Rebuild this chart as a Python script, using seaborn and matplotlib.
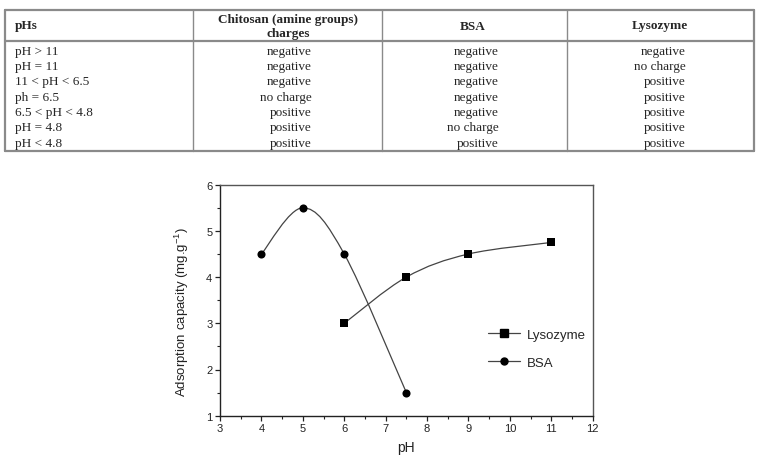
import matplotlib
matplotlib.use("Agg")
import matplotlib.pyplot as plt
from matplotlib.path import Path
from matplotlib.patches import PathPatch
from matplotlib.lines import Line2D
from matplotlib.ticker import MultipleLocator
import numpy as np
import pandas as pd
import seaborn as sns

# table content
col_headers = ["pHs", "Chitosan (amine groups)\ncharges", "BSA", "Lysozyme"]
ph_ranges = ["pH > 11", "pH = 11", "11 < pH < 6.5", "ph = 6.5",
             "6.5 < pH < 4.8", "pH = 4.8", "pH < 4.8"]
chitosan_charge = ["negative", "negative", "negative", "no charge",
                   "positive", "positive", "positive"]
bsa_charge = ["negative", "negative", "negative", "negative",
              "negative", "no charge", "positive"]
lyso_charge = ["negative", "no charge", "positive", "positive",
               "positive", "positive", "positive"]

# adsorption capacity vs pH
bsa_ph = [4, 5, 6, 7.5]
bsa_cap = [4.5, 5.5, 4.5, 1.5]
lyso_ph = [6, 7.5, 9, 11]
lyso_cap = [3.0, 4.0, 4.5, 4.75]

sns.set_style("ticks")
plt.rcParams['font.family'] = ['Liberation Sans', 'DejaVu Sans']
plt.rcParams['mathtext.default'] = 'regular'

W, H = 764, 464
fig = plt.figure(figsize=(W / 100, H / 100), dpi=100)


def fx(x):
    return x / W


def fy(y):
    return 1 - y / H


# ---- table ----
grey = "#8a8a8a"
tbl_left, tbl_right = 5, 754
tbl_top, tbl_head, tbl_bot = 10.7, 42, 152
col_lines = [193, 382, 567]
for y in [tbl_top, tbl_head, tbl_bot]:
    fig.add_artist(Line2D([fx(tbl_left), fx(tbl_right)], [fy(y), fy(y)],
                          color=grey, lw=1.6, transform=fig.transFigure))
for x in [tbl_left, tbl_right]:
    fig.add_artist(Line2D([fx(x), fx(x)], [fy(tbl_top), fy(tbl_bot)],
                          color=grey, lw=1.6, transform=fig.transFigure))
for x in col_lines:
    fig.add_artist(Line2D([fx(x), fx(x)], [fy(tbl_top), fy(tbl_bot)],
                          color=grey, lw=1.0, transform=fig.transFigure))

serif = ['Liberation Serif', 'DejaVu Serif']
fs_tbl = 9.5
fig.text(fx(15), fy(26.5), col_headers[0], family=serif, weight='bold',
         size=fs_tbl, ha='left', va='center')
fig.text(fx(288), fy(27), col_headers[1], family=serif, weight='bold',
         size=fs_tbl, ha='center', va='center', linespacing=1.15)
fig.text(fx(473), fy(26.5), col_headers[2], family=serif, weight='bold',
         size=fs_tbl, ha='center', va='center')
fig.text(fx(660), fy(26.5), col_headers[3], family=serif, weight='bold',
         size=fs_tbl, ha='center', va='center')

for i in range(len(ph_ranges)):
    y = fy(51.5 + 15.4 * i)
    fig.text(fx(15), y, ph_ranges[i], family=serif, size=fs_tbl, ha='left', va='center')
    fig.text(fx(312), y, chitosan_charge[i], family=serif, size=fs_tbl, ha='right', va='center')
    fig.text(fx(498.5), y, bsa_charge[i], family=serif, size=fs_tbl, ha='right', va='center')
    fig.text(fx(686), y, lyso_charge[i], family=serif, size=fs_tbl, ha='right', va='center')

# ---- chart ----
ax = fig.add_axes([fx(220), 47.3 / H, (592.7 - 220) / W, (416.7 - 185.7) / H])


def smooth_path(x, y):
    pts = np.column_stack([x, y]).astype(float)
    n = len(pts)
    verts = [pts[0]]
    codes = [Path.MOVETO]
    for i in range(n - 1):
        p0 = pts[max(i - 1, 0)]
        p1 = pts[i]
        p2 = pts[i + 1]
        p3 = pts[min(i + 2, n - 1)]
        verts += [p1 + (p2 - p0) / 6, p2 - (p3 - p1) / 6, p2]
        codes += [Path.CURVE4] * 3
    return Path(verts, codes)


line_col = "#444444"
ax.add_patch(PathPatch(smooth_path(bsa_ph, bsa_cap), fc='none', ec=line_col, lw=0.9))
ax.add_patch(PathPatch(smooth_path(lyso_ph, lyso_cap), fc='none', ec=line_col, lw=0.9))

df_bsa = pd.DataFrame({"pH": bsa_ph, "cap": bsa_cap})
df_lyso = pd.DataFrame({"pH": lyso_ph, "cap": lyso_cap})
sns.scatterplot(data=df_lyso, x="pH", y="cap", marker='s', s=40, color='black',
                edgecolor='black', linewidth=0, ax=ax, zorder=3)
sns.scatterplot(data=df_bsa, x="pH", y="cap", marker='o', s=34, color='black',
                edgecolor='black', linewidth=0, ax=ax, zorder=3)

ax.set_xlim(3, 12)
ax.set_ylim(1, 6)
ax.xaxis.set_major_locator(MultipleLocator(1))
ax.xaxis.set_minor_locator(MultipleLocator(0.5))
ax.yaxis.set_major_locator(MultipleLocator(1))
ax.yaxis.set_minor_locator(MultipleLocator(0.5))
ax.tick_params(which='major', direction='out', length=3.5, width=0.9,
               labelsize=8, colors='#222222', pad=2)
ax.tick_params(which='minor', direction='out', length=2, width=0.8, colors='#222222')
for side, sp in ax.spines.items():
    sp.set_visible(True)
    sp.set_linewidth(1.0)
    sp.set_color('#222222' if side in ('left', 'bottom') else '#555555')

ax.set_xlabel("pH", fontsize=10, color='#222222', labelpad=5)
ax.set_ylabel("Adsorption capacity (mg.g$^{-1}$)", fontsize=9.5, color='#222222')
ax.yaxis.set_label_coords(-0.077, 0.455)

handles = [
    Line2D([], [], color=line_col, lw=0.9, marker='s', markersize=5.5,
           markerfacecolor='black', markeredgecolor='black'),
    Line2D([], [], color=line_col, lw=0.9, marker='o', markersize=5,
           markerfacecolor='black', markeredgecolor='black'),
]
ax.legend(handles, ["Lysozyme", "BSA"], frameon=False, fontsize=9.5,
          loc='center left', bbox_to_anchor=(0.688, 0.29),
          handlelength=2.4, handletextpad=0.5, labelspacing=1.2)

fig.savefig("out.png", dpi=100)
